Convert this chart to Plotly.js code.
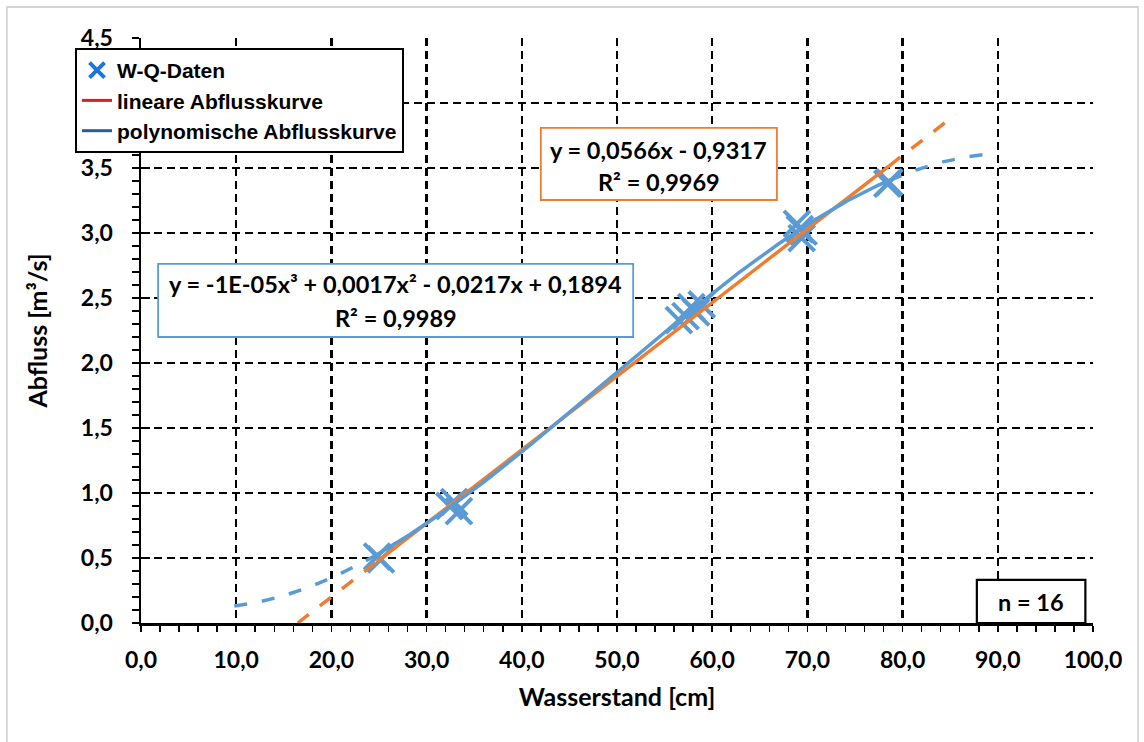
<!DOCTYPE html>
<html>
<head>
<meta charset="utf-8">
<script src="https://cdn.plot.ly/plotly-3.0.1.min.js"></script>
<style>
  html, body { margin: 0; padding: 0; background: #ffffff; }
  #chart { width: 1144px; height: 742px; }
</style>
</head>
<body>
<div id="chart"></div>
<script>
// W-Q measurements (water level in cm, discharge in m³/s)
const wasserstand = [24.8, 25.2, 32.4, 32.9, 33.4, 56.5, 57.2, 57.8, 58.3, 58.9, 68.9, 69.2, 69.4, 69.6, 78.4, 78.6];
const abfluss     = [0.51, 0.49, 0.90, 0.93, 0.86, 2.33, 2.36, 2.43, 2.39, 2.45, 3.07, 3.03, 2.96, 3.01, 3.38, 3.39];

// trend lines: linear (slope, intercept) and cubic (x³, x², x, 1)
const linearKoeff = [0.0566, -0.9317];
const polyKoeff   = [-1.166e-5, 0.001713, -0.0217, 0.1894];

// extent of the dashed forecast parts (cm)
const linearBereich = [16.46, 85.6];
const polyBereich   = [9.8, 88.4];

// label texts
const gleichungLinear = ['y = 0,0566x - 0,9317', 'R² = 0,9969'];
const gleichungPoly   = ['y = -1E-05x³ + 0,0017x² - 0,0217x + 0,1894', 'R² = 0,9989'];
const anzahlText = 'n = ' + wasserstand.length;
const legendeNamen = ['W-Q-Daten', 'lineare Abflusskurve', 'polynomische Abflusskurve'];

const ORANGE = '#ED7D31';
const HELLBLAU = '#5B9BD5';
const TXT = 'Lato, "Open Sans", sans-serif';

function linear(x) { return linearKoeff[0] * x + linearKoeff[1]; }
function poly(x) {
  return ((polyKoeff[0] * x + polyKoeff[1]) * x + polyKoeff[2]) * x + polyKoeff[3];
}
function sample(f, a, b) {
  const xs = [], ys = [];
  const n = Math.max(2, Math.ceil((b - a) / 0.25));
  for (let i = 0; i <= n; i++) {
    const x = a + (b - a) * i / n;
    xs.push(x); ys.push(f(x));
  }
  return {x: xs, y: ys};
}
// dashed parts before and after the measured range, joined by a gap
function forecast(f, range, lo, hi) {
  const back = sample(f, range[0], lo);
  const fwd = sample(f, hi, range[1]);
  return {x: back.x.concat([null], fwd.x), y: back.y.concat([null], fwd.y)};
}

const xMin = Math.min(...wasserstand);
const xMax = Math.max(...wasserstand);

const linSolid = sample(linear, xMin, xMax);
const linDash = forecast(linear, linearBereich, xMin, xMax);
const polySolid = sample(poly, xMin, xMax);
const polyDash = forecast(poly, polyBereich, xMin, xMax);

const traces = [
  {type: 'scatter', mode: 'markers', x: wasserstand, y: abfluss, showlegend: false, hoverinfo: 'x+y',
   marker: {symbol: 'x-thin', size: 26, color: HELLBLAU, line: {width: 4, color: HELLBLAU}}},
  {type: 'scatter', mode: 'lines', x: linDash.x, y: linDash.y, showlegend: false, hoverinfo: 'skip',
   line: {color: ORANGE, width: 3.5, dash: '14px,14px'}},
  {type: 'scatter', mode: 'lines', x: linSolid.x, y: linSolid.y, showlegend: false, hoverinfo: 'skip',
   line: {color: ORANGE, width: 3.5}},
  {type: 'scatter', mode: 'lines', x: polyDash.x, y: polyDash.y, showlegend: false, hoverinfo: 'skip',
   line: {color: HELLBLAU, width: 3.5, dash: '13px,15px'}},
  {type: 'scatter', mode: 'lines', x: polySolid.x, y: polySolid.y, showlegend: false, hoverinfo: 'skip',
   line: {color: HELLBLAU, width: 3.5}},
  // legend entries
  {type: 'scatter', mode: 'markers', x: [null], y: [null], name: legendeNamen[0],
   marker: {symbol: 'x-thin', size: 15, color: '#1C75D8', line: {width: 4, color: '#1C75D8'}}},
  {type: 'scatter', mode: 'lines', x: [null], y: [null], name: legendeNamen[1],
   line: {color: '#D42027', width: 3}},
  {type: 'scatter', mode: 'lines', x: [null], y: [null], name: legendeNamen[2],
   line: {color: '#255E9E', width: 3}},
  // carrier for the inner tick marks on the value axis
  {type: 'scatter', mode: 'lines', x: [null], y: [null], yaxis: 'y2', showlegend: false, hoverinfo: 'skip'}
];

const gridStyle = {showgrid: true, gridcolor: '#000000', gridwidth: 2.5, griddash: '8px,5px'};
const tickFont = {family: TXT, size: 23, color: '#000000', weight: 'bold'};
const titleFont = {family: TXT, size: 25, color: '#000000', weight: 'bold'};
const eqFont = {family: TXT, size: 23.5, color: '#000000', weight: 'bold'};

const layout = {
  width: 1144, height: 742,
  margin: {l: 141, r: 51, t: 38, b: 119, pad: 0},
  paper_bgcolor: '#ffffff', plot_bgcolor: '#ffffff',
  separators: ',.',
  showlegend: true,
  xaxis: Object.assign({
    range: [0, 100], tick0: 0, dtick: 10, tickformat: '.1f',
    zeroline: false, showline: true, linecolor: '#000000', linewidth: 2.5,
    ticks: 'outside', ticklen: 6, tickwidth: 1.5, tickcolor: '#000000',
    minor: {dtick: 2, ticks: 'outside', ticklen: 6, tickwidth: 1.5, tickcolor: '#000000', showgrid: false},
    tickfont: tickFont, ticklabelstandoff: 9,
    title: {text: 'Wasserstand [cm]', font: titleFont, standoff: 17}
  }, gridStyle),
  yaxis: Object.assign({
    range: [0, 4.5], tick0: 0, dtick: 0.5, tickformat: '.1f',
    zeroline: false, showline: true, linecolor: '#000000', linewidth: 2.5,
    ticks: 'outside', ticklen: 7, tickwidth: 1.5, tickcolor: '#000000',
    minor: {dtick: 0.1, ticks: 'outside', ticklen: 7, tickwidth: 1.5, tickcolor: '#000000', showgrid: false},
    tickfont: tickFont, ticklabelstandoff: 14,
    title: {text: 'Abfluss [m³/s]', font: titleFont, standoff: 26}
  }, gridStyle),
  yaxis2: {
    overlaying: 'y', side: 'left', range: [0, 4.5], tick0: 0, dtick: 0.5,
    ticks: 'inside', ticklen: 9, tickwidth: 1.5, tickcolor: '#000000',
    showticklabels: false, showgrid: false, zeroline: false, showline: false
  },
  legend: {
    x: -0.0693, y: 0.983, xanchor: 'left', yanchor: 'top',
    bgcolor: '#ffffff', bordercolor: '#000000', borderwidth: 2,
    font: {family: '"Liberation Sans", Arial, sans-serif', size: 21, color: '#000000', weight: 'bold'},
    traceorder: 'normal'
  },
  shapes: [
    // chart area frame
    {type: 'rect', xref: 'paper', yref: 'paper', x0: -0.1408, x1: 1.0473, y0: -0.25, y1: 1.053,
     line: {color: '#C8C8C8', width: 1.3}, fillcolor: 'rgba(0,0,0,0)', layer: 'below'},
    // equation boxes
    {type: 'rect', xref: 'x', yref: 'y', x0: 42.0, x1: 66.8, y0: 3.254, y1: 3.808,
     line: {color: ORANGE, width: 1.8}, fillcolor: '#ffffff', layer: 'above'},
    {type: 'rect', xref: 'x', yref: 'y', x0: 1.8, x1: 51.7, y0: 2.2, y1: 2.762,
     line: {color: HELLBLAU, width: 1.8}, fillcolor: '#ffffff', layer: 'above'},
    // sample count box
    {type: 'rect', xref: 'x', yref: 'y', x0: 87.8, x1: 99.2, y0: 0, y1: 0.331,
     line: {color: '#000000', width: 2.2}, fillcolor: '#ffffff', layer: 'above'}
  ],
  annotations: [
    {xref: 'x', yref: 'y', x: 54.4, y: 3.638, text: gleichungLinear[0], showarrow: false, font: eqFont},
    {xref: 'x', yref: 'y', x: 54.4, y: 3.392, text: gleichungLinear[1], showarrow: false, font: eqFont},
    {xref: 'x', yref: 'y', x: 26.75, y: 2.608, text: gleichungPoly[0], showarrow: false, font: eqFont},
    {xref: 'x', yref: 'y', x: 26.75, y: 2.346, text: gleichungPoly[1], showarrow: false, font: eqFont},
    {xref: 'x', yref: 'y', x: 93.5, y: 0.165, text: anzahlText, showarrow: false, font: eqFont}
  ]
};

Plotly.newPlot('chart', traces, layout, {displayModeBar: false, staticPlot: true});
</script>
</body>
</html>
